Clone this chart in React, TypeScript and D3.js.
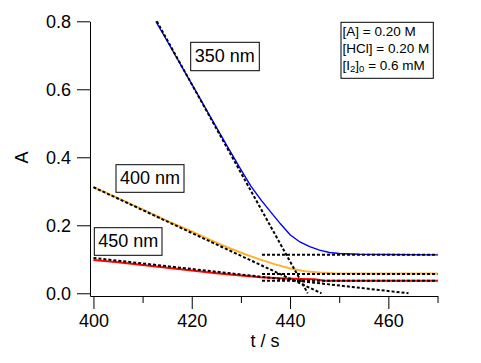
import { useEffect, useRef } from 'react';
import * as d3 from 'd3';

// absorbance traces: [t (s), A]
const trace350: [number, number][] = [
  [412.7, 0.8], [415, 0.742], [418, 0.666], [421, 0.59], [424, 0.514], [427, 0.438],
  [430, 0.364], [432, 0.316], [434, 0.276], [436, 0.24], [438, 0.205], [440, 0.172],
  [442, 0.151], [444, 0.137], [446, 0.127], [448, 0.12], [450, 0.117], [454, 0.115],
  [460, 0.114], [470, 0.113],
];
const trace400: [number, number][] = [
  [400, 0.312], [405, 0.28], [410, 0.247], [415, 0.213], [420, 0.182], [425, 0.149],
  [428, 0.131], [431, 0.114], [434, 0.099], [437, 0.085], [440, 0.073], [443, 0.065],
  [446, 0.061], [449, 0.059], [455, 0.058], [470, 0.058],
];
const trace450: [number, number][] = [
  [400, 0.098], [405, 0.091], [410, 0.083], [415, 0.075], [420, 0.067], [425, 0.059],
  [430, 0.052], [434, 0.047], [438, 0.044], [442, 0.042], [445, 0.041], [447, 0.037],
  [470, 0.037],
];

// dotted fit lines
const fit350: [number, number][] = [[412.9, 0.8], [443.6, 0.0]];
const fit400: [number, number][] = [[400, 0.312], [446.4, 0.0]];
const fit450: [number, number][] = [[400, 0.104], [464.1, 0.0]];
const plateauStart = 434.3;
const plateauEnd = 470;
const plateaus = [0.113, 0.057, 0.037];

const yTicks = [0, 0.2, 0.4, 0.6, 0.8];
const xMajor = [400, 420, 440, 460];
const xMinor = [410, 430, 450, 470];

const labels = [
  { text: '350 nm', x: 190.7, y: 42.3, w: 68.6, h: 28.4 },
  { text: '400 nm', x: 116, y: 164.7, w: 68, h: 27.6 },
  { text: '450 nm', x: 94.3, y: 227.7, w: 67.7, h: 27.6 },
];

const FONT = '"Liberation Sans", Arial, sans-serif';

export default function App() {
  const svgRef = useRef<SVGSVGElement>(null);

  useEffect(() => {
    if (!svgRef.current) return;
    const svg = d3.select(svgRef.current);
    svg.selectAll('*').remove();

    const x = d3.scaleLinear().domain([399.3, 470]).range([90, 437.5]);
    const y = d3.scaleLinear().domain([-0.008, 0.8]).range([296, 21.3]);

    const line = d3.line<[number, number]>()
      .x(d => x(d[0]))
      .y(d => y(d[1]));

    // axes
    svg.append('g')
      .attr('transform', 'translate(90,0)')
      .call(d3.axisLeft(y).tickValues(yTicks).tickSize(13).tickSizeOuter(0).tickPadding(6).tickFormat(d3.format('.1f') as any))
      .call(g => g.selectAll('text').attr('font-size', 18).attr('font-family', FONT).attr('fill', '#000'));

    svg.append('g')
      .attr('transform', 'translate(0,296)')
      .call(d3.axisBottom(x).tickValues(xMinor).tickSize(7).tickSizeOuter(0).tickFormat(() => ''))
      .call(g => g.select('.domain').remove());

    svg.append('g')
      .attr('transform', 'translate(0,296)')
      .call(d3.axisBottom(x).tickValues(xMajor).tickSize(13).tickSizeOuter(0).tickPadding(5))
      .call(g => g.selectAll('text').attr('font-size', 18).attr('font-family', FONT).attr('fill', '#000'));

    svg.selectAll('.domain, .tick line').attr('stroke', '#000').attr('stroke-width', 1);

    svg.append('text')
      .attr('x', 265).attr('y', 347)
      .attr('text-anchor', 'middle')
      .attr('font-size', 18).attr('font-family', FONT)
      .text('t / s');

    svg.append('text')
      .attr('transform', 'translate(28,157.5) rotate(-90)')
      .attr('text-anchor', 'middle')
      .attr('font-size', 18).attr('font-family', FONT)
      .text('A');

    // data traces
    svg.append('path').attr('d', line(trace450)).attr('fill', 'none').attr('stroke', '#ff0000').attr('stroke-width', 2);
    svg.append('path').attr('d', line(trace400)).attr('fill', 'none').attr('stroke', '#ffb030').attr('stroke-width', 2);
    svg.append('path').attr('d', line(trace350)).attr('fill', 'none').attr('stroke', '#0000ff').attr('stroke-width', 1.4);

    // fits on top
    [fit350, fit400, fit450].forEach(f => {
      svg.append('path').attr('d', line(f)).attr('fill', 'none')
        .attr('stroke', '#000').attr('stroke-width', 2).attr('stroke-dasharray', '3,2');
    });
    plateaus.forEach(p => {
      svg.append('path').attr('d', line([[plateauStart, p], [plateauEnd, p]])).attr('fill', 'none')
        .attr('stroke', '#000').attr('stroke-width', 2).attr('stroke-dasharray', '3,2');
    });

    // wavelength labels
    labels.forEach(l => {
      svg.append('rect')
        .attr('x', l.x).attr('y', l.y).attr('width', l.w).attr('height', l.h)
        .attr('fill', '#fff').attr('stroke', '#000').attr('stroke-width', 1);
      svg.append('text')
        .attr('x', l.x + 4).attr('y', l.y + 19.5)
        .attr('font-size', 18).attr('font-family', FONT)
        .text(l.text);
    });

    // conditions box
    const box = svg.append('g');
    box.append('rect')
      .attr('x', 341).attr('y', 22.3).attr('width', 92.3).attr('height', 56)
      .attr('fill', '#fff').attr('stroke', '#000').attr('stroke-width', 1);
    const fs = 13.5;
    box.append('text').attr('x', 342.5).attr('y', 36).attr('font-size', fs).attr('font-family', FONT)
      .text('[A] = 0.20 M');
    box.append('text').attr('x', 342.5).attr('y', 53).attr('font-size', fs).attr('font-family', FONT)
      .text('[HCl] = 0.20 M');
    const t3 = box.append('text').attr('x', 342.5).attr('y', 69.5).attr('font-size', fs).attr('font-family', FONT);
    t3.append('tspan').text('[I');
    t3.append('tspan').attr('font-size', 9.5).attr('dy', 2.5).text('2');
    t3.append('tspan').attr('dy', -2.5).text(']');
    t3.append('tspan').attr('font-size', 9.5).attr('dy', 2.5).text('0');
    t3.append('tspan').attr('dy', -2.5).text(' = 0.6 mM');
  }, []);

  return (
    <svg
      ref={svgRef}
      width={481}
      height={363}
      style={{ position: 'absolute', left: 0, top: 0, background: '#fff' }}
    />
  );
}
